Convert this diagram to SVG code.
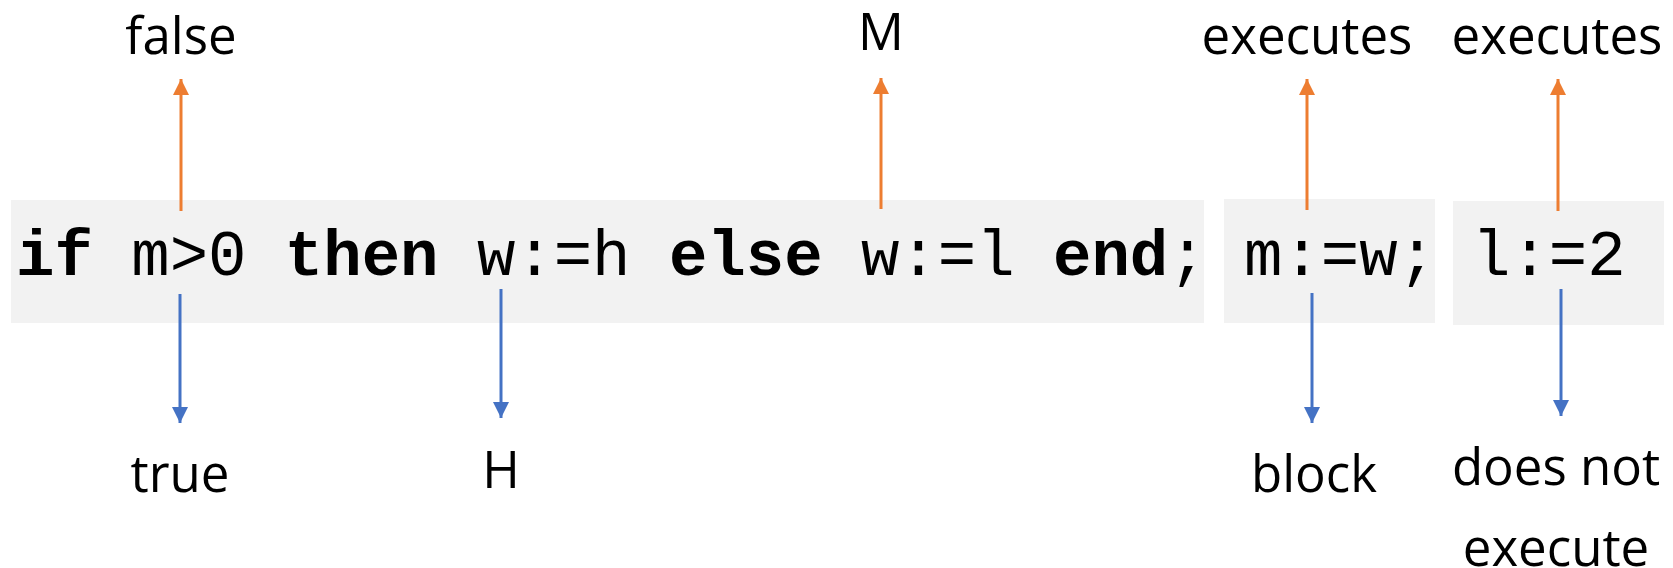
<svg xmlns="http://www.w3.org/2000/svg" width="1673" height="568" viewBox="0 0 1673 568">
  <style>
    .box { fill: #F2F2F2; }
    .code { font-family: "Courier New", Courier, "Nimbus Mono PS", "Nimbus Mono L", FreeMono, "Liberation Mono", monospace; font-size: 64px; fill: #000; }
    .kw { font-weight: bold; }
    .lbl { font-family: "Open Sans", "Noto Sans", sans-serif; font-size: 51px; fill: #000; text-anchor: middle; }
    .up { stroke: #ED7D31; stroke-width: 3; fill: none; marker-end: url(#ao); }
    .down { stroke: #4472C4; stroke-width: 3; fill: none; marker-end: url(#ab); }
  </style>
  <defs>
    <marker id="ao" markerUnits="userSpaceOnUse" markerWidth="16" markerHeight="16" refX="16" refY="8" orient="auto">
      <path d="M0,0 L16,8 L0,16 Z" fill="#ED7D31"/>
    </marker>
    <marker id="ab" markerUnits="userSpaceOnUse" markerWidth="16" markerHeight="16" refX="16" refY="8" orient="auto">
      <path d="M0,0 L16,8 L0,16 Z" fill="#4472C4"/>
    </marker>
  </defs>
  <rect width="1673" height="568" fill="#fff"/>

  <g id="code-if">
    <rect class="box" x="11" y="200" width="1193" height="123"/>
    <text class="code" x="16" y="275" xml:space="preserve"><tspan class="kw">if</tspan> m&gt;0 <tspan class="kw">then</tspan> w:=h <tspan class="kw">else</tspan> w:=l <tspan class="kw">end</tspan>;</text>
  </g>
  <g id="code-assign-m">
    <rect class="box" x="1224" y="199" width="211" height="124"/>
    <text class="code" x="1244" y="275">m:=w;</text>
  </g>
  <g id="code-assign-l">
    <rect class="box" x="1453" y="201" width="211" height="124"/>
    <text class="code" x="1472" y="275">l:=2</text>
  </g>

  <g id="label-false"><text class="lbl" x="181" y="54">false</text></g>
  <g id="label-M"><text class="lbl" x="881" y="50">M</text></g>
  <g id="label-executes-1"><text class="lbl" x="1307" y="54">executes</text></g>
  <g id="label-executes-2"><text class="lbl" x="1557" y="54">executes</text></g>
  <g id="label-true"><text class="lbl" x="180" y="492">true</text></g>
  <g id="label-H"><text class="lbl" x="501" y="488">H</text></g>
  <g id="label-block"><text class="lbl" x="1314" y="492">block</text></g>
  <g id="label-does-not-execute">
    <text class="lbl" x="1556" y="485">does not</text>
    <text class="lbl" x="1556" y="566">execute</text>
  </g>

  <g id="connectors">
    <line class="up" x1="181" y1="211" x2="181" y2="79"/>
    <line class="up" x1="881" y1="209" x2="881" y2="78"/>
    <line class="up" x1="1307" y1="210" x2="1307" y2="79"/>
    <line class="up" x1="1558" y1="211" x2="1558" y2="79"/>
    <line class="down" x1="180" y1="294" x2="180" y2="423"/>
    <line class="down" x1="501" y1="289" x2="501" y2="418"/>
    <line class="down" x1="1312" y1="293" x2="1312" y2="423"/>
    <line class="down" x1="1561" y1="289" x2="1561" y2="416"/>
  </g>
</svg>
